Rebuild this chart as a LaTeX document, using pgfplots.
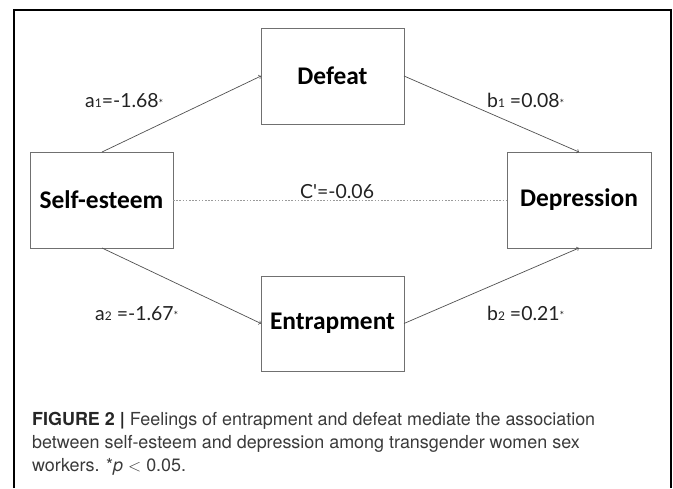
\documentclass[border=0pt]{standalone}
\usepackage{pgfplots}
\pgfplotsset{compat=1.18}
\usepackage{fontspec}
\setmainfont{TeX Gyre Heros}
\newfontfamily\boxfont{Carlito}
\newfontfamily\lblfont{Lato}
\newfontfamily\capfont{TeX Gyre Heros}
\definecolor{boxgray}{HTML}{707070}
\definecolor{arrgray}{HTML}{505050}
\definecolor{dotgray}{HTML}{9A9A9A}
\definecolor{lbl}{HTML}{222222}
\definecolor{captxt}{HTML}{3A3A3A}
\newcommand{\sm}[1]{{\fontsize{12}{12}\selectfont #1}}
\newcommand{\st}{\raisebox{0.05em}{\fontsize{11}{11}\selectfont *}}
\begin{document}
\begin{tikzpicture}
\begin{axis}[scale only axis, width=673bp, height=488bp,
  xmin=0, xmax=673, ymin=0, ymax=488, y dir=reverse,
  hide axis, clip=false]
% invisible extent
\addplot[draw=none, forget plot] coordinates {(0,0) (673,488)};
% outer frame
\addplot[black, line width=1.2bp] coordinates {(14,488) (14,10) (671,10) (671,488)};
% boxes
\addplot[boxgray, line width=0.9bp] coordinates {(261,28) (404,28) (404,124) (261,124) (261,28)};
\addplot[boxgray, line width=0.9bp] coordinates {(30,152) (173,152) (173,248) (30,248) (30,152)};
\addplot[boxgray, line width=0.9bp] coordinates {(507,152) (651,152) (651,248) (507,248) (507,152)};
\addplot[boxgray, line width=0.9bp] coordinates {(261,276) (404,276) (404,371) (261,371) (261,276)};
% arrows
\addplot[arrgray, line width=0.7bp, ->] coordinates {(102,152) (261,76)};
\addplot[arrgray, line width=0.7bp, ->] coordinates {(404,76) (579,152)};
\addplot[arrgray, line width=0.7bp, ->] coordinates {(102,248) (261,323.5)};
\addplot[arrgray, line width=0.7bp, ->] coordinates {(404,323.5) (579,248)};
% dotted direct path
\addplot[dotgray, line width=1bp, dash pattern=on 1.6bp off 1.6bp] coordinates {(173,200) (507,200)};
% box labels
\node[font=\boxfont\bfseries\fontsize{25.5}{28}\selectfont] at (axis cs:332.5,76) {Defeat};
\node[font=\boxfont\bfseries\fontsize{25.5}{28}\selectfont] at (axis cs:101.5,200) {Self-esteem};
\node[font=\boxfont\bfseries\fontsize{25.5}{28}\selectfont] at (axis cs:579,200) {Depression};
\node[font=\boxfont\bfseries\fontsize{25.5}{28}\selectfont] at (axis cs:332.5,323.5) {Entrapment};
% path labels
\node[font=\lblfont\fontsize{19.5}{22}\selectfont, text=lbl, anchor=base west, inner sep=0pt] at (axis cs:85,108) {a\sm{1}=-1.68\st};
\node[font=\lblfont\fontsize{19.5}{22}\selectfont, text=lbl, anchor=base west, inner sep=0pt] at (axis cs:487,108) {b\sm{1} =0.08\st};
\node[font=\lblfont\fontsize{19.5}{22}\selectfont, text=lbl, anchor=base west, inner sep=0pt] at (axis cs:300,198) {C'=-0.06};
\node[font=\lblfont\fontsize{19.5}{22}\selectfont, text=lbl, anchor=base west, inner sep=0pt] at (axis cs:95,320) {a\sm{2} =-1.67\st};
\node[font=\lblfont\fontsize{19.5}{22}\selectfont, text=lbl, anchor=base west, inner sep=0pt] at (axis cs:487,320) {b\sm{2} =0.21\st};
% caption
\node[font=\capfont\fontsize{18}{23}\selectfont, text=captxt, anchor=base west, inner sep=0pt] at (axis cs:32,425) {{\bfseries\color{black!85}FIGURE 2 |} Feelings of entrapment and defeat mediate the association};
\node[font=\capfont\fontsize{18}{23}\selectfont, text=captxt, anchor=base west, inner sep=0pt] at (axis cs:32,448) {between self-esteem and depression among transgender women sex};
\node[font=\capfont\fontsize{18}{23}\selectfont, text=captxt, anchor=base west, inner sep=0pt] at (axis cs:32,471) {workers. *\textit{p} $<$ 0.05.};
\end{axis}
\end{tikzpicture}
\end{document}
